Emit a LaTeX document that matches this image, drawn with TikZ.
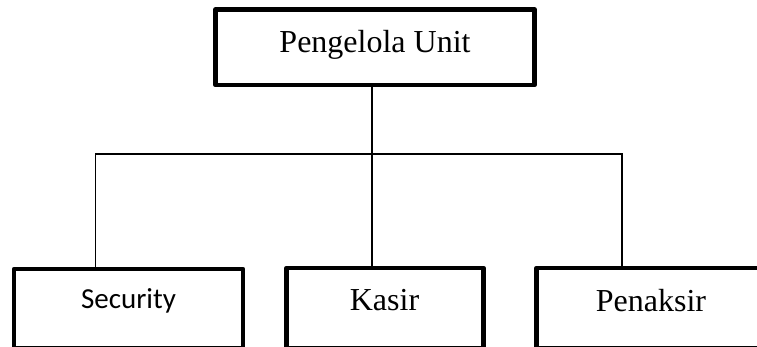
\documentclass[tikz,border=0pt]{standalone}
\usepackage{fontspec}
\setmainfont{Liberation Serif}
\newfontfamily\calibri{Carlito}
\begin{document}
\begin{tikzpicture}[x=1pt,y=-1pt,
  boxstyle/.style={draw=black,line width=4.5pt,line join=round,inner sep=0pt,outer sep=0pt,anchor=north west},
  lbl/.style={anchor=base,inner sep=0pt,font=\fontsize{32}{38}\selectfont},
  conn/.style={draw=black,line width=1.5pt}]
\useasboundingbox (0,0) rectangle (757,347);
\clip (0,0) rectangle (757,347);
% boxes
\node[boxstyle,minimum width=319pt,minimum height=75.5pt] (top) at (215.5,9.5) {};
\node[boxstyle,minimum width=229pt,minimum height=78.8pt] (sec) at (14,269) {};
\node[boxstyle,minimum width=197pt,minimum height=79.8pt] (kas) at (286.5,268) {};
\node[boxstyle,minimum width=230pt,minimum height=79.8pt] (pen) at (536.5,268) {};
% labels
\node[lbl] (ttop) at (375,53) {Pengelola Unit};
\node[lbl,font=\calibri\fontsize{29}{34}\selectfont] (tsec) at (128.5,308) {Security};
\node[lbl] (tkas) at (384.5,310) {Kasir};
\node[lbl] (tpen) at (651,311) {Penaksir};
% connectors
\coordinate (j) at (372,154);
\coordinate (l) at (95.7,154);
\coordinate (r) at (622,154);
\draw[conn] (top.south -| j) -- (j);
\draw[conn] (sec.north -| l) -- (l) -- (r) -- (pen.north -| r);
\draw[conn] (j) -- (kas.north -| j);
\end{tikzpicture}
\end{document}
